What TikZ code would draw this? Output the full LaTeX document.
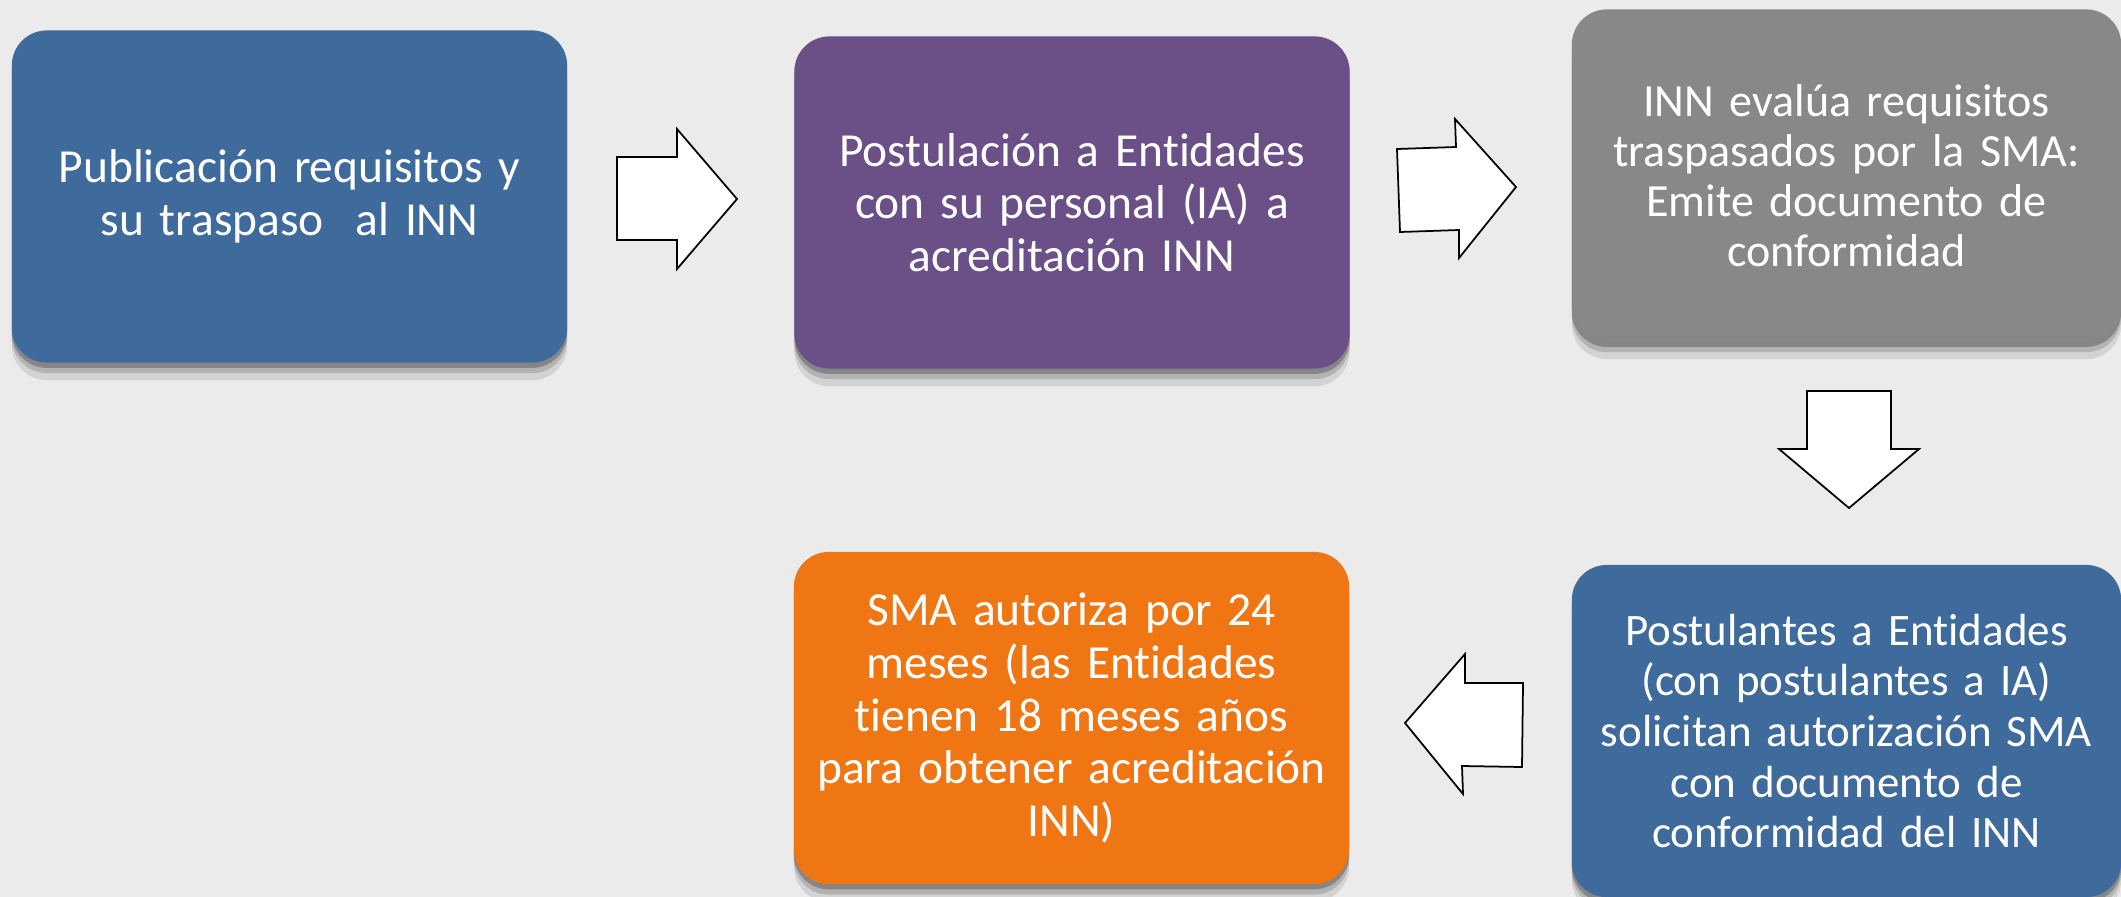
\documentclass[tikz,border=0pt]{standalone}
\usepackage{fontspec}
\setmainfont{Carlito}[Ligatures=NoCommon]
\definecolor{bgc}{HTML}{EBEBEB}
\definecolor{bluebox}{HTML}{3E6A9C}
\definecolor{purplebox}{HTML}{6A5086}
\definecolor{graybox}{HTML}{888888}
\definecolor{orangebox}{HTML}{F07614}
\tikzset{
  stepbox/.style={rounded corners=0.35cm, minimum width=5.55cm, minimum height=3.32cm,
    text width=5.3cm, align=center, text=white, inner sep=0pt,
    font=\fontsize{13.5}{15}\selectfont,
    preaction={fill=black, opacity=0.10, transform canvas={yshift=-5pt}},
    preaction={fill=black, opacity=0.15, transform canvas={yshift=-3pt}},
    preaction={fill=black, opacity=0.25, transform canvas={yshift=-1.5pt}}},
  blockarrow/.style={draw=black, fill=white, line width=0.5pt, line join=miter}
}
\begin{document}
\begin{tikzpicture}[x=0.01cm, y=-0.01cm]
\fill[bgc] (0,0) rectangle (2121,897);
\useasboundingbox (0,0) rectangle (2121,897);

\node[stepbox, fill=bluebox] (b1) at (289.5,196.5) {Publicación requisitos y\\su traspaso\ \ al INN};
\node[stepbox, fill=purplebox] (b2) at (1072,202.5) {Postulación a Entidades\\con su personal (IA) a\\acreditación INN};
\node[stepbox, fill=graybox, minimum width=5.49cm, font=\fontsize{13.1}{14.2}\selectfont] (b3) at (1846.5,175.5) {INN evalúa requisitos\\traspasados por la SMA:\\Emite documento de\\conformidad};
\node[stepbox, fill=bluebox, minimum width=5.49cm, font=\fontsize{12.8}{14.4}\selectfont] (b4) at (1846.5,731) {Postulantes a Entidades\\(con postulantes a IA)\\solicitan autorización SMA\\con documento de\\conformidad del INN};
\node[stepbox, fill=orangebox] (b5) at (1071.5,718) {SMA autoriza por 24\\meses (las Entidades\\tienen 18 meses años\\para obtener acreditación\\INN)};

% block arrows
\draw[blockarrow] (617,157) -- (677,157) -- (677,129) -- (737,199) -- (677,269) -- (677,240) -- (617,240) -- cycle;
\draw[blockarrow] (1397,149) -- (1456,147) -- (1455,119) -- (1516,187) -- (1459,258) -- (1459,230) -- (1400,232) -- cycle;
\draw[blockarrow] (1807,391) -- (1891,391) -- (1891,449) -- (1919,449) -- (1849,508) -- (1779,449) -- (1807,449) -- cycle;
\draw[blockarrow] (1405,723) -- (1465,654) -- (1465,683) -- (1523,683) -- (1522,767) -- (1462,766) -- (1463,794) -- cycle;
\end{tikzpicture}
\end{document}
